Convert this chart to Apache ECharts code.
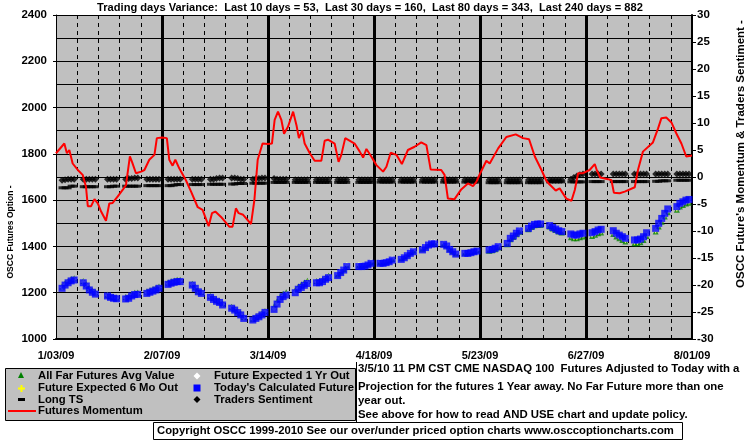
<!DOCTYPE html>
<html><head><meta charset="utf-8">
<script src="https://cdn.jsdelivr.net/npm/echarts@6/dist/echarts.min.js"></script>
<style>html,body{margin:0;padding:0;background:#fff}#c{width:755px;height:446px}</style>
</head><body><div id="c"></div>
<script>
const FONT = '"Liberation Sans", Arial, sans-serif';
const titleText = 'Trading days Variance:  Last 10 days = 53,  Last 30 days = 160,  Last 80 days = 343,  Last 240 days = 882';
const xTickLabels = ['1/03/09','2/07/09','3/14/09','4/18/09','5/23/09','6/27/09','8/01/09'];
// day offsets from Sat 1/03/09 that were market holidays
const holidays = [16, 44, 97, 142, 181];

// Today's Calculated Future (per trading day)
const calcFuture = [
 1219,1233,1243,1251,1255, 1243,1229,1212,1202,1194, 1186,1180,1176,1174, 1173,1176,1186,1192,1193,
 1197,1202,1207,1212,1219, 1236,1241,1245,1248,1248, 1233,1219,1204,1197, 1180,1171,1163,1158,1147,
 1133,1125,1114,1104,1089, 1082,1089,1096,1104,1115, 1128,1151,1171,1183,1190, 1200,1215,1223,1232,1240,
 1243,1243,1248,1258,1265, 1274,1287,1298,1313, 1313,1313,1315,1320,1327, 1327,1327,1330,1334,1341,
 1344,1351,1360,1370,1377, 1385,1395,1406,1411,1411, 1409,1402,1387,1377,1367, 1370,1370,1373,1377,1380,
 1385,1387,1392,1399, 1413,1435,1445,1457,1467, 1478,1488,1495,1497,1497, 1490,1482,1475,1468,1464,
 1454,1449,1449,1454,1457, 1459,1464,1471,1474, 1468,1457,1449,1442,1435, 1428,1428,1432,1442,1459,
 1478,1500,1521,1543,1562, 1572,1586,1593,1600,1603];
// All Far Futures Avg Value
const farAvg = [
 1227,1241,1251,1259,1263, 1251,1237,1220,1210,1202, 1191,1185,1181,1179, 1181,1184,1194,1200,1201,
 1205,1210,1215,1220,1227, 1244,1249,1253,1256,1256, 1239,1225,1210,1203, 1186,1177,1169,1164,1153,
 1139,1131,1120,1110,1095, 1088,1095,1102,1110,1121, 1140,1163,1183,1195,1202, 1212,1227,1235,1244,1252,
 1251,1251,1256,1266,1273, 1279,1292,1303,1318, 1318,1318,1320,1325,1332, 1332,1332,1335,1339,1346,
 1349,1356,1365,1375,1382, 1390,1400,1411,1416,1416, 1412,1405,1390,1380,1370, 1373,1373,1376,1380,1383,
 1381,1383,1388,1395, 1409,1431,1441,1453,1463, 1474,1484,1491,1493,1493, 1486,1478,1471,1464,1460,
 1440,1435,1435,1440,1443, 1445,1450,1457,1460, 1454,1443,1435,1428,1421, 1414,1414,1418,1428,1445,
 1464,1486,1507,1529,1548, 1558,1572,1579,1586,1589];
// Future Expected 6 Mo Out
const sixMoOut = [
 1223,1237,1247,1255,1259, 1247,1233,1216,1206,1198, 1189,1183,1179,1177, 1177,1180,1190,1196,1197,
 1201,1206,1211,1216,1223, 1240,1245,1249,1252,1252, 1236,1222,1207,1200, 1183,1174,1166,1161,1150,
 1136,1128,1117,1107,1092, 1085,1092,1099,1107,1118, 1134,1157,1177,1189,1196, 1206,1221,1229,1238,1246,
 1247,1247,1252,1262,1269, 1280,1293,1304,1319, 1319,1319,1321,1326,1333, 1333,1333,1336,1340,1347,
 1350,1357,1366,1376,1383, 1391,1401,1412,1417,1417, 1413,1406,1391,1381,1371, 1374,1374,1377,1381,1384,
 1386,1388,1393,1400, 1414,1436,1446,1458,1468, 1479,1489,1496,1498,1498, 1491,1483,1476,1469,1465,
 1443,1438,1438,1443,1446, 1448,1453,1460,1463, 1457,1446,1438,1431,1424, 1417,1417,1421,1431,1448,
 1467,1489,1510,1532,1551, 1561,1575,1582,1589,1592];
// Future Expected 1 Yr Out
const oneYrOut = [
 1222,1236,1246,1254,1258, 1246,1232,1215,1205,1197, 1189,1183,1179,1177, 1176,1179,1189,1195,1196,
 1200,1205,1210,1215,1222, 1239,1244,1248,1251,1251, 1236,1222,1207,1200, 1183,1174,1166,1161,1150,
 1136,1128,1117,1107,1092, 1085,1092,1099,1107,1118, 1131,1154,1174,1186,1193, 1203,1218,1226,1235,1243,
 1246,1246,1251,1261,1268, 1283,1296,1307,1322, 1322,1322,1324,1329,1336, 1336,1336,1339,1343,1350,
 1353,1360,1369,1379,1386, 1394,1404,1415,1420,1420, 1415,1408,1393,1383,1373, 1376,1376,1379,1383,1386,
 1391,1393,1398,1405, 1419,1441,1451,1463,1473, 1484,1494,1501,1503,1503, 1496,1488,1481,1474,1470,
 1446,1441,1441,1446,1449, 1451,1456,1463,1466, 1460,1449,1441,1434,1427, 1420,1420,1424,1434,1451,
 1470,1492,1513,1535,1554, 1564,1578,1585,1592,1595];
// Long TS (right axis)
const longTS = [
 -2.0,-2.0,-2.0,-1.7,-1.7, -1.8,-1.8,-1.8,-1.8,-1.8, -1.8,-1.8,-1.7,-1.7, -1.7,-1.7,-1.7,-1.7,-1.7,
 -1.6,-1.6,-1.6,-1.6,-1.6, -1.6,-1.6,-1.5,-1.4,-1.4, -1.4,-1.4,-1.4,-1.4, -1.35,-1.35,-1.35,-1.35,-1.35,
 -1.3,-1.3,-1.2,-1.2,-1.2, -1.15,-1.15,-1.15,-1.15,-1.15, -1.0,-1.0,-1.0,-1.0,-1.0, -1.0,-1.0,-1.0,-1.0,-1.0,
 -1.0,-1.0,-1.0,-1.0,-1.0, -1.0,-1.0,-1.0,-1.0, -1.0,-1.0,-1.0,-1.0,-1.0, -0.95,-0.95,-0.95,-0.95,-0.95,
 -0.95,-0.95,-0.95,-0.95,-0.95, -0.95,-0.95,-0.95,-0.95,-0.95, -0.95,-0.95,-0.95,-0.95,-0.95, -0.95,-0.95,-0.95,-0.95,-0.95,
 -1.05,-1.05,-1.05,-1.05, -1.05,-1.05,-1.05,-1.05,-1.05, -1.05,-1.05,-1.05,-1.05,-1.05, -0.9,-0.9,-0.9,-0.9,-0.9,
 -0.9,-0.9,-0.9,-0.9,-0.9, -0.85,-0.85,-0.85,-0.85, -0.85,-0.85,-0.85,-0.85,-0.85, -0.85,-0.85,-0.85,-0.85,-0.85,
 -0.8,-0.8,-0.7,-0.7,-0.7, -0.6,-0.6,-0.6,-0.6,-0.6];
// Traders Sentiment (right axis)
const tradersSentiment = [
 -0.6,-0.5,-0.4,-0.4,-0.4, -0.4,-0.4,-0.4,-0.4,-0.4, -0.4,-0.4,-0.4,-0.4, -0.4,-0.3,-0.3,-0.2,-0.2,
 -0.4,-0.4,-0.4,-0.4,-0.4, -0.4,-0.4,-0.4,-0.4,-0.4, -0.4,-0.4,-0.4,-0.4, -0.4,-0.4,-0.3,-0.2,-0.2,
 -0.2,-0.2,-0.3,-0.4,-0.4, -0.4,-0.3,-0.3,-0.2,-0.2, -0.3,-0.4,-0.4,-0.4,-0.4, -0.5,-0.5,-0.5,-0.5,-0.5,
 -0.5,-0.5,-0.5,-0.5,-0.5, -0.5,-0.5,-0.5,-0.5, -0.5,-0.5,-0.5,-0.5,-0.5, -0.5,-0.5,-0.5,-0.5,-0.5,
 -0.5,-0.5,-0.5,-0.5,-0.5, -0.5,-0.5,-0.5,-0.5,-0.5, -0.5,-0.5,-0.5,-0.5,-0.5, -0.5,-0.5,-0.5,-0.5,-0.5,
 -0.55,-0.55,-0.55,-0.55, -0.55,-0.55,-0.55,-0.55,-0.55, -0.55,-0.55,-0.55,-0.55,-0.55, -0.55,-0.55,-0.55,-0.55,-0.55,
 -0.4,-0.1,0.2,0.4,0.55, 0.55,0.55,0.55,0.55, 0.55,0.55,0.55,0.55,0.55, 0.55,0.55,0.55,0.55,0.55,
 0.55,0.55,0.55,0.55,0.55, 0.55,0.55,0.55,0.55,0.55];
// Futures Momentum (right axis): day offset and value
const momentumDay = [0,2.75,3.6,4.4,5.5,7.2,8.8,9.9,10.5,11.6,12.7,13.8,14.9,16.5,17.6,18.7,20.4,22.0,23.1,24.4,25.1,26.4,28.1,29.2,30.8,32.5,33.3,35.0,36.6,37.4,38.5,39.4,40.7,42.9,44.6,46.8,48.4,50.4,51.5,52.6,54.5,57.2,58.3,59.4,60.3,61.8,64.4,65.5,66.6,68.2,70,71.3,72.2,73.3,74.4,75.3,76.6,78.3,79.4,80.2,81.3,82.1,83.8,85.4,87.6,88.7,89.8,92.0,93.3,94.2,95.5,98.6,100.3,101.4,102.5,104.1,105.8,108.0,109.1,110.5,112.4,114.2,116.2,118.4,120.6,122.3,123.7,127.2,128.3,129.4,131.6,133.8,136.0,137.7,138.8,140,142.1,143.2,146.0,148.7,151.8,154.2,156.2,158.1,160.3,161.9,163.0,165.0,166.3,168.5,170.2,171.3,172.4,174.0,176.2,177.9,178.6,179.7,182.3,183.4,184.2,186.1,187.8,191.1,192.2,193.8,197.1,198.8,199.9,201.5,203.2,204.8,206.5,208.1,210];
const momentumValue = [4.4,6.2,4.4,5.0,2.5,1.3,0.4,-1.8,-5.4,-5.4,-4.1,-4.9,-6.4,-8.1,-4.9,-4.8,-3.6,-2.4,-1.5,3.8,2.8,0.7,1.0,1.3,3.2,4.1,7.2,7.3,7.2,3.2,2.1,3.2,1.6,-0.6,-2.7,-5.6,-6.1,-9.1,-6.7,-6.4,-7.4,-9.2,-9.2,-5.8,-6.7,-7.0,-8.7,-4.3,3.2,6.2,6.1,6.2,10.6,12.1,10.6,8.0,9.3,12.1,9.6,7.2,8.6,6.2,4.4,3.0,3.0,6.7,6.9,6.2,2.8,4.1,7.2,6.2,4.7,3.6,5.2,3.8,2.2,1.0,1.9,4.5,4.1,2.4,5.0,5.6,6.4,5.9,1.4,1.3,0.4,-4.0,-4.1,-2.3,-1.2,-1.7,-0.9,0.6,3.0,2.5,5.3,7.4,7.9,7.2,7.0,3.8,1.3,-0.7,-1.4,-2.5,-2.1,-4.0,-4.4,-2.4,0.7,0.7,1.3,2.4,1.2,-0.1,-0.4,-0.6,-2.9,-3.0,-2.7,-1.9,1.4,4.7,6.4,9.0,10.9,11.0,10.1,8.1,6.2,3.8,4.0];

// trading days (weekdays, minus holidays) as day offsets
const tradingDays = [];
for (let d = 0; d <= 210; d++) { const wd = d % 7; if (wd >= 2 && wd <= 6 && holidays.indexOf(d) < 0) tradingDays.push(d); }
const pts = arr => tradingDays.map((d, i) => [d, arr[i]]);

const FS = 11.3;
const txt = (x, y, s, extra) => ({type:'text', x, y, style:Object.assign({text:s, font:'bold ' + FS + 'px ' + FONT, fill:'#000', textVerticalAlign:'middle'}, extra||{})});
const plusPath = 'path://M2,0H3V2H5V3H3V5H2V3H0V2H2Z';

const chart = echarts.init(document.getElementById('c'), null, {renderer:'canvas'});
chart.setOption({
  animation:false,
  backgroundColor:'#ffffff',
  grid:{left:56, right:63, top:15, bottom:107, show:true, backgroundColor:'#c0c0c0', borderWidth:0},
  xAxis:[
    {type:'value', min:0, max:210, interval:7, position:'bottom',
     axisLine:{show:true, onZero:false, lineStyle:{color:'#000', width:2}},
     axisTick:{show:true, inside:true, length:3, lineStyle:{color:'#000'}},
     axisLabel:{show:false},
     splitLine:{show:true, lineStyle:{color:'#000', width:1, type:[4,4]}}},
    {type:'value', min:0, max:210, interval:35, position:'bottom',
     axisLine:{show:false}, axisTick:{show:false},
     axisLabel:{show:true, margin:11, color:'#000', fontWeight:'bold', fontSize:11, fontFamily:FONT,
       formatter:v => xTickLabels[Math.round(v/35)] || ''},
     splitLine:{show:true, showMinLine:false, showMaxLine:false, lineStyle:{color:'#000', width:3}}}
  ],
  yAxis:[
    {type:'value', min:1000, max:2400, interval:200, position:'left',
     axisLine:{show:true, lineStyle:{color:'#000', width:1}},
     axisTick:{show:true, length:3, lineStyle:{color:'#000'}},
     axisLabel:{margin:9, color:'#000', fontWeight:'bold', fontSize:11.5, fontFamily:FONT, formatter:v => String(v)},
     splitLine:{show:false}},
    {type:'value', min:-30, max:30, interval:5, position:'right',
     axisLine:{show:true, onZero:false, lineStyle:{color:'#000', width:2}},
     axisTick:{show:true, length:4, lineStyle:{color:'#000'}},
     axisLabel:{margin:5, color:'#000', fontWeight:'bold', fontSize:11.5, fontFamily:FONT, formatter:v => String(v)},
     splitLine:{show:false}},
    {type:'value', min:1000, max:2400, interval:100, position:'left',
     axisLine:{show:false}, axisTick:{show:false}, axisLabel:{show:false},
     splitLine:{show:true, lineStyle:{color:'#000', width:1}}}
  ],
  series:[
    {name:'All Far Futures Avg Value', type:'scatter', yAxisIndex:0, data:pts(farAvg), symbol:'triangle', symbolSize:6, itemStyle:{color:'#008000'}, z:2},
    {name:'Future Expected 6 Mo Out', type:'scatter', yAxisIndex:0, data:pts(sixMoOut), symbol:plusPath, symbolSize:5, itemStyle:{color:'#ffff00'}, z:3},
    {name:'Future Expected 1 Yr Out', type:'scatter', yAxisIndex:0, data:pts(oneYrOut), symbol:'diamond', symbolSize:5, itemStyle:{color:'#ffffff'}, z:4},
    {name:"Today's Calculated Future", type:'scatter', yAxisIndex:0, data:pts(calcFuture), symbol:'rect', symbolSize:7, itemStyle:{color:'#0000ff'}, z:5},
    {name:'Long TS', type:'scatter', yAxisIndex:1, data:pts(longTS), symbol:'rect', symbolSize:[7,3], itemStyle:{color:'#000'}, z:6},
    {name:'Traders Sentiment', type:'scatter', yAxisIndex:1, data:pts(tradersSentiment), symbol:'diamond', symbolSize:7, itemStyle:{color:'#000'}, z:7},
    {name:'Futures Momentum', type:'line', yAxisIndex:1, data:momentumDay.map((d,i)=>[d, momentumValue[i]]), showSymbol:false, symbol:'none',
     lineStyle:{color:'#ff0000', width:2}, z:8}
  ],
  graphic:[
    txt(370, 8, titleText, {textAlign:'center', font:'bold 11.1px ' + FONT}),
    {type:'text', x:11, y:232, rotation:Math.PI/2, style:{text:'OSCC Futures Option -', font:'bold 8.5px ' + FONT, fill:'#000', textAlign:'center', textVerticalAlign:'middle'}},
    {type:'text', x:741, y:154, rotation:Math.PI/2, style:{text:"OSCC Future's Momentum & Traders Sentiment -", font:'bold 11.5px ' + FONT, fill:'#000', textAlign:'center', textVerticalAlign:'middle'}},
    // legend box
    {type:'rect', shape:{x:5.5, y:368.5, width:350, height:52}, style:{fill:'#c0c0c0', stroke:'#000', lineWidth:1}},
    {type:'line', shape:{x1:356.5, y1:362, x2:356.5, y2:422}, style:{stroke:'#000', lineWidth:1}},
    {type:'polygon', shape:{points:[[21,372],[24,378],[18,378]]}, style:{fill:'#008000'}},
    {type:'rect', shape:{x:20.5, y:385, width:2, height:7}, style:{fill:'#ffff00'}},
    {type:'rect', shape:{x:18, y:387.5, width:7, height:2}, style:{fill:'#ffff00'}},
    {type:'rect', shape:{x:18, y:398, width:7, height:3}, style:{fill:'#000'}},
    {type:'line', shape:{x1:8, y1:411, x2:36, y2:411}, style:{stroke:'#ff0000', lineWidth:2}},
    {type:'polygon', shape:{points:[[197,372.5],[200.5,376],[197,379.5],[193.5,376]]}, style:{fill:'#ffffff'}},
    {type:'rect', shape:{x:193.5, y:384.5, width:7, height:7}, style:{fill:'#0000ff'}},
    {type:'polygon', shape:{points:[[197,396],[200.5,399.5],[197,403],[193.5,399.5]]}, style:{fill:'#000'}},
    txt(38, 376, 'All Far Futures Avg Value'),
    txt(38, 388, 'Future Expected 6 Mo Out'),
    txt(38, 399.5, 'Long TS'),
    txt(38, 411, 'Futures Momentum'),
    txt(214, 376, 'Future Expected 1 Yr Out'),
    txt(214, 388, "Today's Calculated Future"),
    txt(214, 399.5, 'Traders Sentiment'),
    // note text
    txt(358, 369, '3/5/10 11 PM CST CME NASDAQ 100  Futures Adjusted to Today with a', {font:'bold 11.4px ' + FONT}),
    txt(358, 387, 'Projection for the futures 1 Year away. No Far Future more than one', {font:'bold 11.4px ' + FONT}),
    txt(358, 401, 'year out.', {font:'bold 11.4px ' + FONT}),
    txt(358, 415, 'See above for how to read AND USE chart and update policy.', {font:'bold 11.4px ' + FONT}),
    // copyright box
    {type:'rect', shape:{x:153.5, y:422.5, width:529, height:17}, style:{fill:'#ffffff', stroke:'#000', lineWidth:1}},
    txt(157, 431, 'Copyright OSCC 1999-2010 See our over/under priced option charts www.osccoptioncharts.com')
  ]
});
</script></body></html>
